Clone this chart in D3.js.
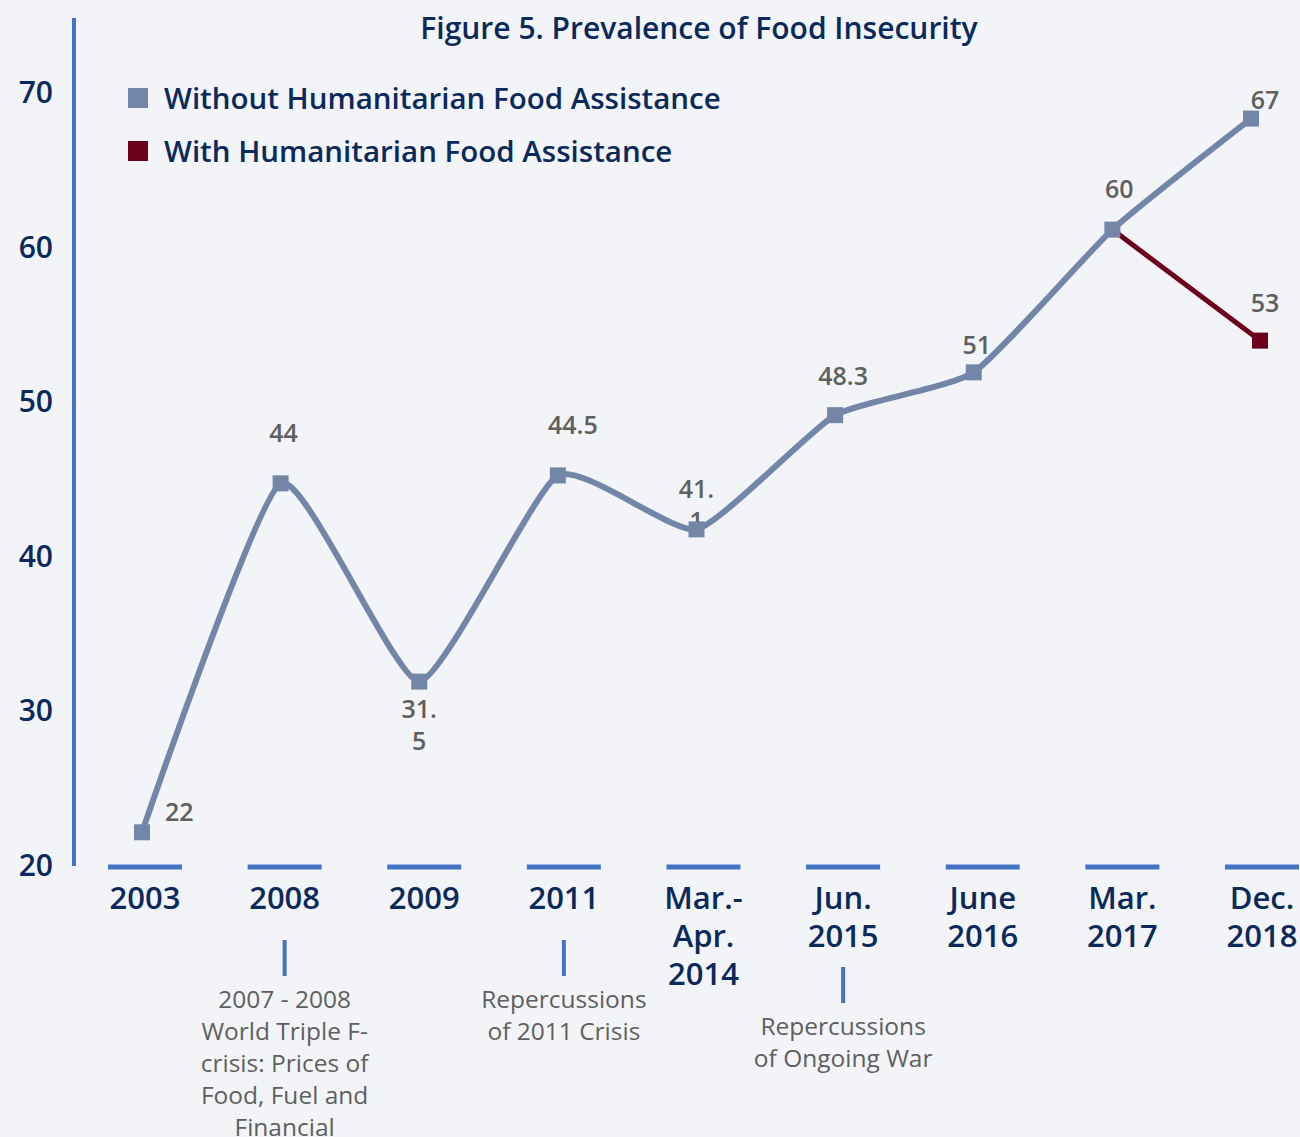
<!DOCTYPE html>
<html><head><meta charset="utf-8">
<script src="https://cdn.jsdelivr.net/npm/d3@7"></script>
<style>
body{margin:0;background:#f2f4f8;}
svg{display:block;font-family:"Open Sans","Noto Sans",sans-serif;}
</style>
</head><body><svg id="chart" width="1300" height="1137"></svg>
<script>
// ---- data ----
const categories = ["2003","2008","2009","2011","Mar.-Apr. 2014","Jun. 2015","June 2016","Mar. 2017","Dec. 2018"];
const categoryLabelLines = [["2003"],["2008"],["2009"],["2011"],["Mar.-","Apr.","2014"],["Jun.","2015"],["June","2016"],["Mar.","2017"],["Dec.","2018"]];
const withoutAssistance = [22,44,31.5,44.5,41.1,48.3,51,60,67];
const withAssistanceCategories = ["Mar. 2017","Dec. 2018"];
const withAssistance = [60,53];
const yTicks = [20,30,40,50,60,70];
const seriesNames = ["Without Humanitarian Food Assistance","With Humanitarian Food Assistance"];
const annotationCategories = ["2008","2011","Jun. 2015"];
const annotationTexts = [
  ["2007 - 2008","World Triple F-","crisis: Prices of","Food, Fuel and","Financial"],
  ["Repercussions","of 2011 Crisis"],
  ["Repercussions","of Ongoing War"]
];
const title = "Figure 5. Prevalence of Food Insecurity";

// ---- style ----
const navy = "#0b2a5b", axisBlue = "#4472c4", gray = "#5f5f5f";
const colWithout = "#7386a8", colWith = "#6a0019";

const svg = d3.select("#chart");
svg.append("rect").attr("width",1300).attr("height",1137).attr("fill","#f2f4f8");

// scales
const xAxisScale = d3.scalePoint().domain(categories).range([145,1262]);
const xPlot = d3.scalePoint().domain(categories).range([142,1251]);
const yAxisScale = d3.scaleLinear().domain([20,70]).range([865,92]);
const yPlot = d3.scaleLinear().domain([20,70]).range([864,71]);

// title
svg.append("text").attr("x",699).attr("y",39).attr("text-anchor","middle")
  .attr("fill",navy).attr("font-size",30).attr("font-weight",600).text(title);

// y axis line & labels
svg.append("line").attr("x1",74).attr("x2",74).attr("y1",18).attr("y2",866)
  .attr("stroke",axisBlue).attr("stroke-width",4);
svg.append("g").selectAll("text").data(yTicks).join("text")
  .attr("x",53).attr("y",d=>yAxisScale(d)+11).attr("text-anchor","end")
  .attr("fill",navy).attr("font-size",30).attr("font-weight",600).text(d=>d);

// x axis dashes & labels
const xg = svg.append("g");
xg.selectAll("line").data(categories).join("line")
  .attr("x1",d=>xAxisScale(d)-37).attr("x2",d=>xAxisScale(d)+37)
  .attr("y1",867).attr("y2",867).attr("stroke",axisBlue).attr("stroke-width",5);
categories.forEach((c,i)=>{
  const t = xg.append("text").attr("text-anchor","middle").attr("fill",navy)
    .attr("font-size",31).attr("font-weight",600);
  categoryLabelLines[i].forEach((ln,j)=>{
    t.append("tspan").attr("x",xAxisScale(c)).attr("y",909+j*38).text(ln);
  });
});

// annotations
const annTickTop = [940,940,967];
annotationCategories.forEach((c,i)=>{
  const x = xAxisScale(c);
  svg.append("line").attr("x1",x).attr("x2",x).attr("y1",annTickTop[i]).attr("y2",annTickTop[i]+36)
    .attr("stroke",axisBlue).attr("stroke-width",4);
  const t = svg.append("text").attr("text-anchor","middle").attr("fill",gray)
    .attr("font-size",24.5).attr("font-weight",500);
  annotationTexts[i].forEach((ln,j)=>{
    t.append("tspan").attr("x",x).attr("y",annTickTop[i]+68+j*32).text(ln);
  });
});

// data labels (drawn beneath lines)
const labelOffsets = [[39,-20,"start"],[3,-50],[0,27],[15,-50],[0,-40],[8,-39],[3,-27],[7,-41],[14,-19]];
const wrapIdx = {2:true,4:true};
const lg = svg.append("g").attr("fill",gray).attr("font-size",25).attr("font-weight",600);
withoutAssistance.forEach((v,i)=>{
  const px = xPlot(categories[i]), py = yPlot(v);
  const [dx,dy,anchor] = labelOffsets[i];
  const s = String(v);
  const lines = wrapIdx[i] ? [s.slice(0,s.indexOf(".")+1), s.slice(s.indexOf(".")+1)] : [s];
  const t = lg.append("text").attr("text-anchor",anchor||"middle");
  lines.forEach((ln,j)=>{
    t.append("tspan").attr("x",anchor==="start"? px+23 : px+dx).attr("y",py+dy+9+j*32).text(ln);
  });
});
withAssistance.forEach((v,i)=>{
  if(i===0) return;
  const c = withAssistanceCategories[i];
  lg.append("text").attr("text-anchor","middle").attr("x",xPlot(c)+14).attr("y",yPlot(v)-38+9).text(v);
});

// lines
const lineWithout = d3.line().x((d,i)=>xPlot(categories[i])).y(d=>yPlot(d)).curve(d3.curveCardinal.tension(0.5));
const lineWith = d3.line().x((d,i)=>xPlot(withAssistanceCategories[i])+(i===1?9:0)).y(d=>yPlot(d));
svg.append("path").datum(withAssistance).attr("d",lineWith).attr("fill","none")
  .attr("stroke",colWith).attr("stroke-width",5);
svg.append("path").datum(withoutAssistance).attr("d",lineWithout).attr("fill","none")
  .attr("stroke",colWithout).attr("stroke-width",6);

// markers
svg.append("g").selectAll("rect").data(withoutAssistance).join("rect")
  .attr("x",(d,i)=>xPlot(categories[i])-8).attr("y",d=>yPlot(d)-8)
  .attr("width",16).attr("height",16).attr("fill",colWithout);
svg.append("rect").attr("x",xPlot(withAssistanceCategories[1])+9-8).attr("y",yPlot(withAssistance[1])-8)
  .attr("width",16).attr("height",16).attr("fill",colWith);

// legend
const legCols = [colWithout,colWith];
seriesNames.forEach((n,i)=>{
  const cy = 98 + i*53;
  svg.append("rect").attr("x",128).attr("y",cy-10).attr("width",20).attr("height",20).attr("fill",legCols[i]);
  svg.append("text").attr("x",164).attr("y",cy+11).attr("fill",navy)
    .attr("font-size",29.5).attr("font-weight",600).text(n);
});
</script>
</body></html>
